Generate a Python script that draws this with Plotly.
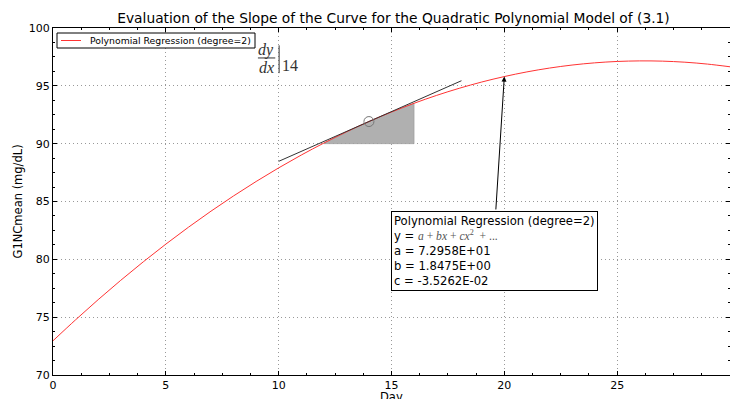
import plotly.graph_objects as go

# Fitted curve values
days = list(range(0, 31))
g1nc = [72.958, 74.770, 76.512, 78.183, 79.784, 81.314, 82.774, 84.163, 85.481, 86.729,
        87.907, 89.014, 90.050, 91.016, 91.912, 92.737, 93.491, 94.175, 94.788, 95.331,
        95.803, 96.205, 96.536, 96.797, 96.987, 97.107, 97.156, 97.135, 97.043, 96.880,
        96.647]

# Tangent line at day 14
tangent_x = [10.0, 18.1]
tangent_y = [88.471, 95.441]
point_x = [14]
point_y = [91.912]

# Shaded region under curve between day 12 and 16, above 90
shade_start, shade_end, shade_base = 12, 16, 90

arrow_tip = (20, 95.803)
arrow_tail = (19.62, 84.18)

legend_label = "Polynomial Regression (degree=2)"
box_lines = [
    "Polynomial Regression (degree=2)",
    "y = <span style=\"font-family:'Liberation Serif';color:#555\"><i>a</i> + <i>bx</i> + <i>cx</i><sup>2</sup>  + ...</span>",
    "a = 7.2958E+01",
    "b = 1.8475E+00",
    "c = -3.5262E-02",
]

fig = go.Figure()

sx = [d for d in days if shade_start <= d <= shade_end]
sy = [g1nc[days.index(d)] for d in sx]
fig.add_trace(go.Scatter(
    x=sx + [shade_end, shade_start], y=sy + [shade_base, shade_base],
    fill="toself", fillcolor="#b0b0b0", mode="lines",
    line=dict(width=0.6, color="#999999"), showlegend=False, hoverinfo="skip"))

fig.add_trace(go.Scatter(
    x=days, y=g1nc, mode="lines", line=dict(color="#ff3333", width=1, shape="spline"),
    name=legend_label, showlegend=False))

fig.add_trace(go.Scatter(
    x=tangent_x, y=tangent_y, mode="lines", line=dict(color="#333333", width=1),
    showlegend=False))

fig.add_trace(go.Scatter(
    x=point_x, y=point_y, mode="markers",
    marker=dict(symbol="circle-open", size=10, color="#777777", line=dict(width=1)),
    showlegend=False))

ann = []
# text box
ann.append(dict(x=14.98, y=84.18, xref="x", yref="y", xanchor="left", yanchor="top",
                text="<br>".join(box_lines), showarrow=False, align="left",
                font=dict(family="DejaVu Sans", size=11.6, color="black"),
                bordercolor="black", borderwidth=1, bgcolor="white", borderpad=2))
# arrow
ann.append(dict(x=arrow_tip[0], y=arrow_tip[1], ax=arrow_tail[0], ay=arrow_tail[1],
                xref="x", yref="y", axref="x", ayref="y", text="", showarrow=True,
                arrowhead=2, arrowsize=1, arrowwidth=1, arrowcolor="black", standoff=0))
# dy/dx |14
serif = dict(family="Liberation Serif", size=16, color="#333333")
ann.append(dict(x=9.44, y=98.1, xref="x", yref="y", text="<i>dy</i>", showarrow=False,
                font=serif, yanchor="middle"))
ann.append(dict(x=9.44, y=96.6, xref="x", yref="y", text="<i>dx</i>", showarrow=False,
                font=serif, yanchor="middle"))
ann.append(dict(x=10.5, y=96.72, xref="x", yref="y", text="14", showarrow=False,
                font=serif, yanchor="middle"))
# legend (drawn manually)
ann.append(dict(x=(88 - 53) / 677, y=(375 - 40.5) / 347, xref="paper", yref="paper",
                xanchor="left", yanchor="middle", text=legend_label, showarrow=False,
                font=dict(family="DejaVu Sans", size=9.3, color="black")))
# axis labels
ann.append(dict(x=0.5, y=(375 - 397) / 347, xref="paper", yref="paper", text="Day",
                showarrow=False, yanchor="middle", xanchor="center",
                font=dict(family="DejaVu Sans", size=11.5, color="black")))
ann.append(dict(x=(17 - 53) / 677, y=0.5, xref="paper", yref="paper", text="G1NCmean (mg/dL)",
                textangle=-90, showarrow=False, xanchor="center", yanchor="middle",
                font=dict(family="DejaVu Sans", size=11.5, color="black")))

shapes = [
    dict(type="line", xref="x", yref="y", x0=9.08, x1=9.85, y0=97.41, y1=97.41,
         line=dict(color="#333333", width=1)),
    dict(type="line", xref="x", yref="y", x0=10.02, x1=10.02, y0=98.5, y1=96.1,
         line=dict(color="#333333", width=1)),
    # legend box and sample line
    dict(type="rect", xref="paper", yref="paper",
         x0=(57 - 53) / 677, x1=(255 - 53) / 677, y0=(375 - 48) / 347, y1=(375 - 33) / 347,
         line=dict(color="black", width=1), fillcolor="white", layer="above"),
    dict(type="line", xref="paper", yref="paper",
         x0=(61 - 53) / 677, x1=(81 - 53) / 677, y0=(375 - 40.5) / 347, y1=(375 - 40.5) / 347,
         line=dict(color="#ff3333", width=1), layer="above"),
]

axis_common = dict(
    showline=True, linecolor="black", linewidth=1, mirror="allticks",
    ticks="inside", ticklen=4, tickcolor="black",
    showgrid=True, gridcolor="#999999", griddash="1px,3px", gridwidth=1,
    zeroline=False, tickfont=dict(family="DejaVu Sans", size=11, color="black"),
    minor=dict(ticks="inside", ticklen=2, tickcolor="black", dtick=1.25, showgrid=False),
    automargin=False,
)

fig.update_layout(
    width=730, height=399,
    margin=dict(l=53, r=0, t=28, b=24),
    paper_bgcolor="white", plot_bgcolor="white",
    title=dict(text="Evaluation of the Slope of the Curve for the Quadratic Polynomial Model of (3.1)",
               x=(393.5) / 730, xanchor="center", y=1 - 18 / 399, yanchor="middle",
               font=dict(family="DejaVu Sans", size=13.8, color="black")),
    xaxis=dict(range=[0, 30], dtick=5, **axis_common),
    yaxis=dict(range=[70, 100], dtick=5, **axis_common),
    annotations=ann, shapes=shapes, showlegend=False,
)

fig.write_html("out.html")
